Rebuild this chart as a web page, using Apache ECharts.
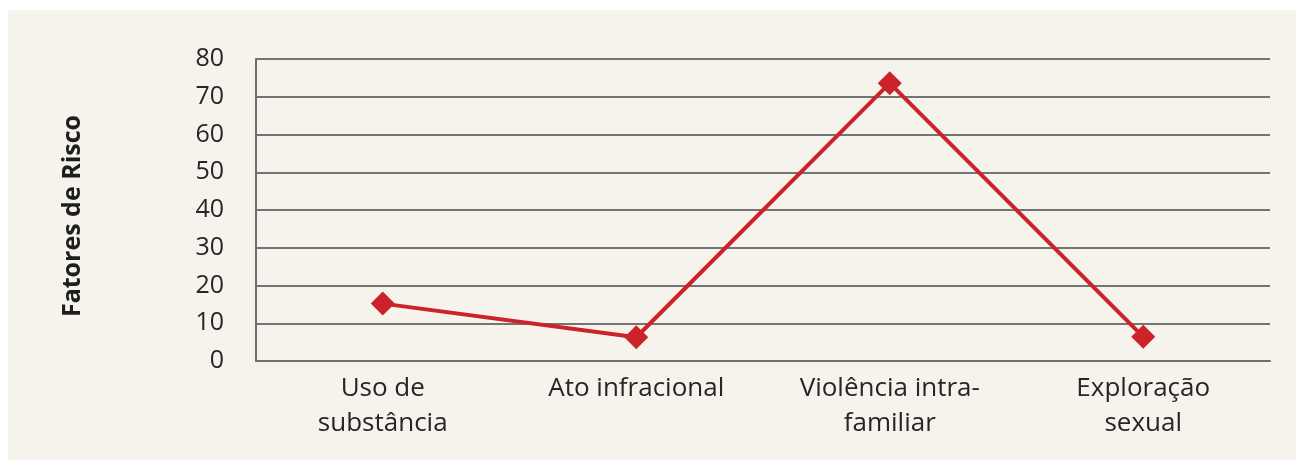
<!DOCTYPE html>
<html>
<head>
<meta charset="utf-8">
<script src="https://cdn.jsdelivr.net/npm/echarts@6/dist/echarts.min.js"></script>
<style>
  html, body { margin: 0; padding: 0; background: #ffffff; }
  #chart { position: absolute; left: 8px; top: 10px; width: 1288px; height: 450px; background: #f6f3ec; }
</style>
</head>
<body>
<div id="chart"></div>
<script>
const categories = ['Uso de\nsubstância', 'Ato infracional', 'Violência intra-\nfamiliar', 'Exploração\nsexual'];
const values = [15.2, 6.3, 73.6, 6.4];
const yTicks = { min: 0, max: 80, interval: 10 };

const chart = echarts.init(document.getElementById('chart'));

chart.setOption({
    backgroundColor: '#f6f3ec',
    grid: {
        left: 248,
        right: 26,
        top: 49,
        bottom: 99
    },
    xAxis: {
        type: 'category',
        data: categories,
        boundaryGap: true,
        axisLine: { lineStyle: { color: '#6e6e6e', width: 2 } },
        axisTick: { show: false },
        axisLabel: {
            color: '#262626',
            fontFamily: 'Open Sans',
            fontSize: 26,
            lineHeight: 35,
            margin: 10
        }
    },
    yAxis: {
        type: 'value',
        min: yTicks.min,
        max: yTicks.max,
        interval: yTicks.interval,
        name: 'Fatores de Risco',
        nameLocation: 'middle',
        nameGap: 171,
        nameTextStyle: {
            color: '#1e1e1e',
            fontFamily: 'Open Sans',
            fontWeight: 'bold',
            fontSize: 25,
            padding: [0, 12, 0, 0]
        },
        axisLine: { show: true, lineStyle: { color: '#6e6e6e', width: 2 } },
        axisTick: { show: false },
        splitLine: { lineStyle: { color: '#747474', width: 2 } },
        axisLabel: {
            color: '#262626',
            fontFamily: 'Open Sans',
            fontSize: 25,
            margin: 32
        }
    },
    series: [
        {
            type: 'line',
            data: values,
            symbol: 'diamond',
            symbolSize: 24,
            lineStyle: { color: '#cc2229', width: 4 },
            itemStyle: { color: '#cc2229' },
            animation: false
        }
    ]
});

window.addEventListener('resize', () => {
    chart.resize();
});
</script>
</body>
</html>
